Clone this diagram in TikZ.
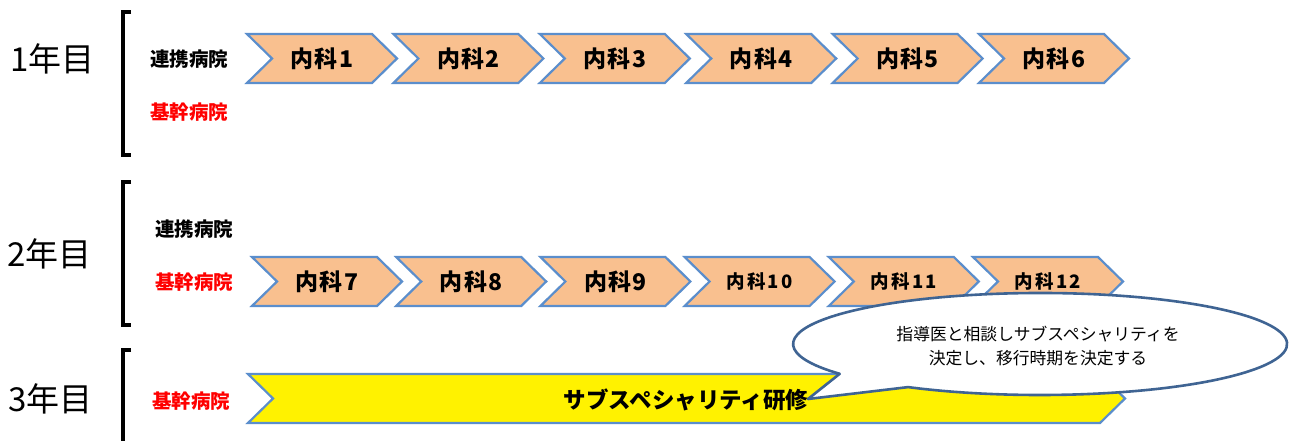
\documentclass[tikz,border=0pt]{standalone}
\usepackage{fontspec}
\newfontfamily\jp{Noto Sans CJK JP}
\newfontfamily\jpsp[LetterSpace=6]{Noto Sans CJK JP}
\newfontfamily\jpspw[LetterSpace=12]{Noto Sans CJK JP}
\definecolor{peach}{HTML}{F9C08F}
\definecolor{chevblue}{HTML}{5B8ECC}
\definecolor{calloutblue}{HTML}{3F6493}
\definecolor{redtext}{HTML}{FF0000}
\tikzset{
  chevshape/.style={draw=chevblue, line width=2.2pt, line join=miter},
  chevtext/.style={font=\jpsp\bfseries\fontsize{23}{25}\selectfont, inner sep=0pt},
  chevtextsmall/.style={font=\jpspw\bfseries\fontsize{18.5}{20}\selectfont, inner sep=0pt},
  yearlabel/.style={font=\jp\fontsize{33}{35}\selectfont, inner sep=0pt, anchor=west},
  hosp/.style={font=\jp\bfseries\fontsize{19.5}{21}\selectfont, inner sep=0pt, anchor=west},
  hospred/.style={hosp, text=redtext},
  bracketline/.style={line width=4pt, line join=miter},
  callout/.style={draw=calloutblue, line width=2.6pt, fill=white, line join=round},
  callouttext/.style={font=\jp\fontsize{16.8}{24}\selectfont, align=center, inner sep=0pt},
  bartext/.style={font=\jp\bfseries\fontsize{22.5}{24}\selectfont, inner sep=0pt}
}
\newcommand\chevronpath[4]{% left x, top y, fill, total length
  \draw[chevshape, fill=#3] (#1,#2) -- ++(#4-25,0) -- ++(25,24.5) -- ++(-25,24.5)
    -- ++(-#4+25,0) -- ++(25,-24.5) -- cycle;}
\begin{document}
\begin{tikzpicture}[x=1pt,y=-1pt]
\useasboundingbox[fill=white] (0,0) rectangle (1290,441);

% year labels
\node[yearlabel] (y1) at (10,59) {1年目};
\node[yearlabel] (y2) at (7,254) {2年目};
\node[yearlabel] (y3) at (8,399) {3年目};

% brackets
\draw[bracketline] (131,12) -- (123,12) -- (123,155) -- (131,155);
\draw[bracketline] (131,182) -- (123,182) -- (123,325) -- (131,325);
\draw[bracketline] (131,350) -- (123,350) -- (123,450);

% hospital labels
\node[hosp] (r1a) at (150,59) {連携病院};
\node[hospred] (r1b) at (150,112) {基幹病院};
\node[hosp] (r2a) at (155,229) {連携病院};
\node[hospred] (r2b) at (155,282) {基幹病院};
\node[hospred] (r3b) at (152,401) {基幹病院};

% row 1 chevrons
\foreach \i/\t in {0/1,1/2,2/3,3/4,4/5,5/6}{
  \pgfmathsetmacro\xl{247+146.4*\i}
  \chevronpath{\xl}{34}{peach}{150}
  \node[chevtext] (c\t) at (\xl+75,59) {内科\t};
}

% row 2 chevrons
\foreach \i/\t/\st in {0/7/chevtext,1/8/chevtext,2/9/chevtext,3/10/chevtextsmall,4/11/chevtextsmall,5/12/chevtextsmall}{
  \pgfmathsetmacro\xl{252+144.2*\i}
  \chevronpath{\xl}{257}{peach}{150}
  \node[\st] (c\t) at (\xl+75,281.5) {内科\t};
}

% row 3 bar
\draw[chevshape, fill=yellow] (248,374) -- (1100,374) -- (1125,398.5) -- (1100,423)
  -- (248,423) -- (273,398.5) -- cycle;

% callout
\draw[callout] (839.7,373.8) -- (808,399) -- (908.1,387.1)
  arc[start angle=122.3, end angle=-215.8, x radius=247, y radius=51] -- cycle;
\node[callouttext] (note) at (1038,346) {指導医と相談しサブスペシャリティを\\決定し、移行時期を決定する};

\node[bartext] (sub) at (686,400) {サブスペシャリティ研修};
\end{tikzpicture}
\end{document}
